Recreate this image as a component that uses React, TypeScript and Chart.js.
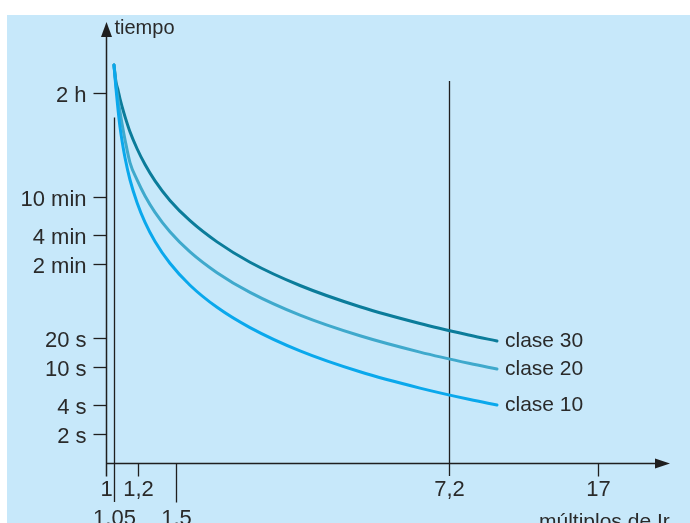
import React, { useEffect, useRef } from 'react';
import { Chart, registerables } from 'chart.js';

Chart.register(...registerables);

// ---- data (x = múltiplos de Ir, t = tiempo en segundos) ----
const seriesNames = ['clase 10', 'clase 20', 'clase 30'];

const xMultiples = [1.047, 1.059, 1.072, 1.084, 1.097, 1.116, 1.148, 1.196, 1.252, 1.326, 1.445, 1.622, 1.895, 2.291, 3.055, 4.315, 6.095, 8.128, 9.495];

const tClase10 = [14100, 8077, 4773, 3175, 2279, 1515, 898, 518, 323, 204, 121, 71.4, 42.0, 25.8, 14.75, 8.93, 6.04, 4.59, 4.03];
const tClase20 = [14100, 8740, 6100, 4572, 3427, 2334, 1357, 893, 608, 411, 257.5, 159, 96.5, 60.1, 34.8, 21.2, 14.33, 10.9, 9.55];
const tClase30 = [14100, 9400, 7700, 6250, 5190, 4060, 2840, 1890, 1293, 874, 546, 336, 202, 124, 70.9, 42.6, 28.5, 21.5, 18.7];

const yTickValues = [7200, 600, 240, 120, 20, 10, 4, 2];
const yTickLabels = ['2 h', '10 min', '4 min', '2 min', '20 s', '10 s', '4 s', '2 s'];

const xTickValues = [1, 1.05, 1.2, 1.5, 7.2, 17];
const xTickLabels = ['1', '1,05', '1,2', '1,5', '7,2', '17'];
const xTickLowerRow = [false, true, false, true, false, false];

const refLineX = [1.05, 7.2];
const refLineTop = [4000, 9600];

const xMin = 1;
const xMax = 25.12;
const yMin = 1;
const yMax = 36000;

const yAxisTitle = 'tiempo';
const xAxisTitle = 'múltiplos de Ir';

// ---- styles ----
const BG = '#C7E8FA';
const INK = '#1f1f1f';
const TEXT = '#2a2a2a';
const FONT = "'Liberation Sans', Arial, Helvetica, sans-serif";
const seriesColors = ['#0AA8EC', '#3FA9CC', '#0B7C9A'];

const decorPlugin = {
  id: 'decor',
  beforeDraw(chart: any) {
    const ctx = chart.ctx;
    ctx.save();
    ctx.fillStyle = '#ffffff';
    ctx.fillRect(0, 0, chart.width, chart.height);
    ctx.fillStyle = BG;
    ctx.fillRect(7, 15, chart.width - 7, chart.height - 15);
    ctx.restore();
  },
  beforeDatasetsDraw(chart: any) {
    const ctx = chart.ctx;
    const xs = chart.scales.x;
    const ys = chart.scales.y;
    const axisY = chart.chartArea.bottom;
    ctx.save();
    ctx.strokeStyle = INK;
    ctx.lineWidth = 1.3;
    refLineX.forEach((v, i) => {
      const px = Math.round(xs.getPixelForValue(v)) + 0.5;
      const top = ys.getPixelForValue(refLineTop[i]);
      const idx = xTickValues.indexOf(v);
      const bottom = axisY + (idx >= 0 && xTickLowerRow[idx] ? 39 : 13);
      ctx.beginPath();
      ctx.moveTo(px, top);
      ctx.lineTo(px, bottom);
      ctx.stroke();
    });
    ctx.restore();
  },
  afterDatasetsDraw(chart: any) {
    const ctx = chart.ctx;
    const xs = chart.scales.x;
    const ys = chart.scales.y;
    const { left, right, top, bottom } = chart.chartArea;
    const axisX = Math.round(left) + 0.5;
    const axisY = Math.round(bottom) + 0.5;
    ctx.save();
    ctx.strokeStyle = INK;
    ctx.fillStyle = INK;
    ctx.lineWidth = 1.5;

    // y axis
    ctx.beginPath();
    ctx.moveTo(axisX, top + 10);
    ctx.lineTo(axisX, axisY + 13);
    ctx.stroke();
    ctx.beginPath();
    ctx.moveTo(axisX, top - 4);
    ctx.lineTo(axisX - 5.5, top + 11);
    ctx.lineTo(axisX + 5.5, top + 11);
    ctx.closePath();
    ctx.fill();

    // x axis
    ctx.beginPath();
    ctx.moveTo(axisX, axisY);
    ctx.lineTo(right - 10, axisY);
    ctx.stroke();
    ctx.beginPath();
    ctx.moveTo(right + 4, axisY);
    ctx.lineTo(right - 11, axisY - 5);
    ctx.lineTo(right - 11, axisY + 5);
    ctx.closePath();
    ctx.fill();

    // y ticks
    ctx.lineWidth = 1.3;
    ctx.font = `22px ${FONT}`;
    ctx.textAlign = 'right';
    ctx.textBaseline = 'alphabetic';
    yTickValues.forEach((v, i) => {
      const py = Math.round(ys.getPixelForValue(v)) + 0.5;
      ctx.strokeStyle = INK;
      ctx.beginPath();
      ctx.moveTo(axisX - 13, py);
      ctx.lineTo(axisX, py);
      ctx.stroke();
      ctx.fillStyle = TEXT;
      ctx.fillText(yTickLabels[i], axisX - 20, py + 8);
    });

    // x ticks
    ctx.textAlign = 'center';
    xTickValues.forEach((v, i) => {
      const px = Math.round(xs.getPixelForValue(v)) + 0.5;
      const lower = xTickLowerRow[i];
      if (v !== xMin && refLineX.indexOf(v) < 0) {
        ctx.strokeStyle = INK;
        ctx.beginPath();
        ctx.moveTo(px, axisY);
        ctx.lineTo(px, axisY + (lower ? 39 : 13));
        ctx.stroke();
      }
      ctx.fillStyle = TEXT;
      ctx.fillText(xTickLabels[i], px, axisY + (lower ? 61 : 32));
    });

    // axis titles
    ctx.font = `20px ${FONT}`;
    ctx.textAlign = 'left';
    ctx.fillText(yAxisTitle, axisX + 8, top + 8);
    ctx.font = `21px ${FONT}`;
    ctx.fillText(xAxisTitle, right - 127, axisY + 64);

    // series labels
    ctx.font = `21px ${FONT}`;
    chart.data.datasets.forEach((ds: any, i: number) => {
      const meta = chart.getDatasetMeta(i);
      const last = meta.data[meta.data.length - 1];
      ctx.fillText(ds.label, last.x + 8, last.y + 6);
    });
    ctx.restore();
  },
};

function toPoints(xs: number[], ts: number[]) {
  return xs.map((x, i) => ({ x, y: ts[i] }));
}

export default function App() {
  const canvasRef = useRef<HTMLCanvasElement | null>(null);

  useEffect(() => {
    const canvas = canvasRef.current;
    if (!canvas) return;
    const chart = new Chart(canvas, {
      type: 'line',
      data: {
        datasets: [
          { label: seriesNames[0], data: toPoints(xMultiples, tClase10), borderColor: seriesColors[0] },
          { label: seriesNames[1], data: toPoints(xMultiples, tClase20), borderColor: seriesColors[1] },
          { label: seriesNames[2], data: toPoints(xMultiples, tClase30), borderColor: seriesColors[2] },
        ].map((d) => ({
          ...d,
          borderWidth: 3,
          pointRadius: 0,
          fill: false,
          cubicInterpolationMode: 'monotone' as const,
          borderCapStyle: 'round' as const,
        })),
      },
      options: {
        animation: false,
        responsive: false,
        devicePixelRatio: 1,
        layout: { padding: { left: 106, right: 24, top: 26, bottom: 60 } },
        scales: {
          x: { type: 'logarithmic', min: xMin, max: xMax, display: false },
          y: { type: 'logarithmic', min: yMin, max: yMax, display: false },
        },
        plugins: { legend: { display: false }, tooltip: { enabled: false } },
        events: [],
      },
      plugins: [decorPlugin],
    });
    return () => chart.destroy();
  }, []);

  return (
    <div style={{ position: 'fixed', left: 0, top: 0, width: 690, height: 523, background: '#fff' }}>
      <canvas ref={canvasRef} width={690} height={523} style={{ display: 'block' }} />
    </div>
  );
}
